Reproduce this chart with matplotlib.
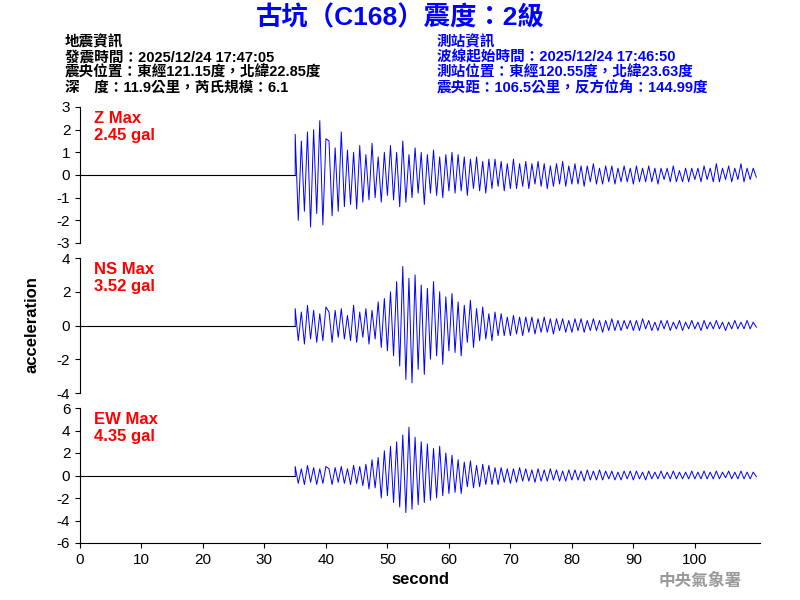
import matplotlib
matplotlib.use("Agg")
import matplotlib.pyplot as plt
import numpy as np

plt.rcParams['font.family'] = ['Liberation Sans', 'Noto Sans CJK TC', 'DejaVu Sans']

onset = 35.0
step = 0.5
z_vals = [1.8,-2.0,1.5,-1.6,1.9,-2.3,2.0,-1.7,2.4,-2.2,1.6,
 1.5,-1.8,1.2,-1.6,1.9,-1.4,1.1,-1.3,1.0,-1.5,1.3,-1.2,0.9,-1.1,1.4,-1.0,0.8,-1.2,1.0,-0.9,
 1.3,-1.1,1.0,-1.4,1.5,-1.2,0.9,-1.0,1.2,-0.8,1.0,-1.3,0.9,-0.8,1.1,-0.9,0.8,-1.0,0.9,-0.7,
 1.0,-0.8,0.9,-0.7,0.8,-0.9,0.7,-0.6,0.8,-0.7,0.6,-0.8,0.7,-0.6,0.7,-0.5,0.6,-0.7,0.5,-0.6,
 0.7,-0.6,0.5,-0.5,0.6,-0.6,0.5,-0.4,0.6,-0.5,0.5,-0.6,0.4,-0.5,0.5,-0.4,0.6,-0.5,0.4,-0.4,
 0.5,-0.4,0.4,-0.5,0.4,-0.3,0.5,-0.4,0.3,-0.4,0.4,-0.3,0.4,-0.4,0.3,-0.3,0.4,-0.3,0.3,-0.4,
 0.4,-0.3,0.3,-0.3,0.4,-0.3,0.3,-0.4,0.3,-0.2,0.3,-0.3,0.4,-0.3,0.2,-0.3,0.3,-0.3,0.3,-0.2,
 0.3,-0.3,0.4,-0.2,0.3,-0.3,0.5,-0.3,0.3,-0.2,0.4,-0.3,0.3,-0.2,0.5,-0.3,0.3,-0.2,0.3,-0.1]
ns_vals = [1.0,-0.9,0.8,-1.1,1.2,-0.8,0.9,-1.0,0.7,-0.9,1.1,
 0.8,-1.0,0.9,-0.7,1.0,-0.8,0.6,-0.9,1.2,-1.0,0.8,-0.7,1.0,-1.1,0.9,-0.8,1.4,-1.3,1.6,-1.5,
 2.0,-1.8,2.6,-2.4,3.5,-3.2,2.8,-3.4,3.0,-2.6,2.4,-2.9,2.2,-2.0,2.6,-1.8,2.0,-2.3,1.7,-1.5,
 1.9,-1.6,1.4,-1.8,1.2,-1.0,1.5,-1.3,1.0,-0.9,1.1,-0.8,0.7,-0.9,0.8,-0.6,0.7,-0.6,0.5,-0.6,
 0.6,-0.5,0.5,-0.6,0.5,-0.4,0.5,-0.5,0.4,-0.4,0.5,-0.4,0.4,-0.5,0.4,-0.3,0.4,-0.4,0.3,-0.4,
 0.4,-0.3,0.4,-0.4,0.3,-0.3,0.4,-0.3,0.3,-0.4,0.3,-0.3,0.4,-0.3,0.3,-0.3,0.3,-0.2,0.3,-0.3,
 0.3,-0.3,0.4,-0.2,0.3,-0.3,0.2,-0.3,0.3,-0.2,0.3,-0.3,0.2,-0.2,0.3,-0.3,0.2,-0.2,0.3,-0.2,
 0.2,-0.3,0.3,-0.2,0.2,-0.2,0.3,-0.2,0.2,-0.3,0.2,-0.2,0.3,-0.2,0.2,-0.2,0.3,-0.2,0.2,-0.1]
ew_vals = [0.8,-0.7,0.6,-0.8,0.9,-0.6,0.7,-0.8,0.6,-0.7,0.8,
 0.6,-0.8,0.7,-0.6,0.8,-0.7,0.6,-0.8,0.9,-0.7,0.8,-0.9,1.0,-1.2,1.4,-1.1,1.6,-2.0,2.2,-1.8,
 2.6,-2.4,3.0,-2.8,3.6,-3.3,4.3,-3.0,3.4,-2.6,3.0,-2.4,2.8,-2.2,2.4,-2.0,2.6,-1.8,2.0,-1.6,
 1.8,-1.5,1.4,-1.6,1.2,-1.0,1.3,-1.1,0.9,-1.0,1.0,-0.8,0.9,-0.8,0.7,-0.8,0.7,-0.6,0.6,-0.7,
 0.6,-0.6,0.7,-0.5,0.6,-0.5,0.5,-0.6,0.6,-0.5,0.5,-0.5,0.6,-0.4,0.5,-0.5,0.4,-0.5,0.5,-0.4,
 0.5,-0.4,0.4,-0.5,0.5,-0.4,0.4,-0.4,0.5,-0.4,0.4,-0.3,0.4,-0.4,0.3,-0.4,0.4,-0.3,0.4,-0.4,
 0.4,-0.3,0.3,-0.4,0.4,-0.3,0.3,-0.3,0.4,-0.3,0.3,-0.3,0.4,-0.3,0.3,-0.3,0.3,-0.3,0.4,-0.3,
 0.3,-0.3,0.4,-0.3,0.3,-0.3,0.4,-0.3,0.3,-0.2,0.4,-0.3,0.3,-0.3,0.4,-0.3,0.3,-0.3,0.3,-0.1]
labels = ["Z Max\n2.45 gal", "NS Max\n3.52 gal", "EW Max\n4.35 gal"]
ylims = [3, 4, 6]
ysteps = [1, 2, 2]

fig = plt.figure(figsize=(8, 6), dpi=100)
W, H = 800, 600
panels = [(107, 243), (258, 393), (408, 543)]
for i, (vals, lab, yl, ys, (top, bot)) in enumerate(zip([z_vals, ns_vals, ew_vals], labels, ylims, ysteps, panels)):
    ax = fig.add_axes([80/W, 1-bot/H, 680/W, (bot-top)/H])
    t = np.concatenate([[0, onset], onset + step*np.arange(len(vals))])
    y = np.concatenate([[0, 0], vals])
    ax.plot(t[:2], y[:2], color='black', lw=0.8)
    ax.plot(t[1:], y[1:], color='blue', lw=0.7)
    ax.set_xlim(0, 110.6)
    ax.set_ylim(-yl, yl)
    ax.set_yticks(np.arange(-yl, yl+0.1, ys))
    ax.set_yticklabels([f"{int(v)}" for v in np.arange(-yl, yl+0.1, ys)], fontsize=11)
    for s in ['top', 'right']:
        ax.spines[s].set_visible(False)
    ax.text(0.02, 0.97, lab, transform=ax.transAxes, color='red', fontsize=12,
            fontweight='bold', va='top', ha='left')
    if i < 2:
        ax.spines['bottom'].set_visible(False)
        ax.set_xticks([])
    else:
        ax.set_xticks(np.arange(0, 101, 10))
        ax.tick_params(axis='x', labelsize=11)
        ax.set_xlabel("second", fontsize=12, fontweight='bold')

fig.text(0.04, 1-325/H, "acceleration", rotation=90, fontsize=12, fontweight='bold', va='center', ha='center')
fig.text(0.5, 1-18/H, "古坑（C168）震度：2級", color='blue', fontsize=19, fontweight='bold', ha='center', va='center')
left = "地震資訊\n發震時間：2025/12/24 17:47:05\n震央位置：東經121.15度，北緯22.85度\n深　度：11.9公里，芮氏規模：6.1"
right = "測站資訊\n波線起始時間：2025/12/24 17:46:50\n測站位置：東經120.55度，北緯23.63度\n震央距：106.5公里，反方位角：144.99度"
fig.text(65/W, 1-35/H, left, fontsize=10.5, fontweight='bold', va='top', ha='left', linespacing=1.1)
fig.text(437/W, 1-35/H, right, fontsize=10.5, fontweight='bold', va='top', ha='left', color='blue', linespacing=1.1)
fig.text(700/W, 1-581/H, "中央氣象署", fontsize=12, fontweight='bold', color='#999999', ha='center', va='center')
fig.savefig("out.png", dpi=100)
